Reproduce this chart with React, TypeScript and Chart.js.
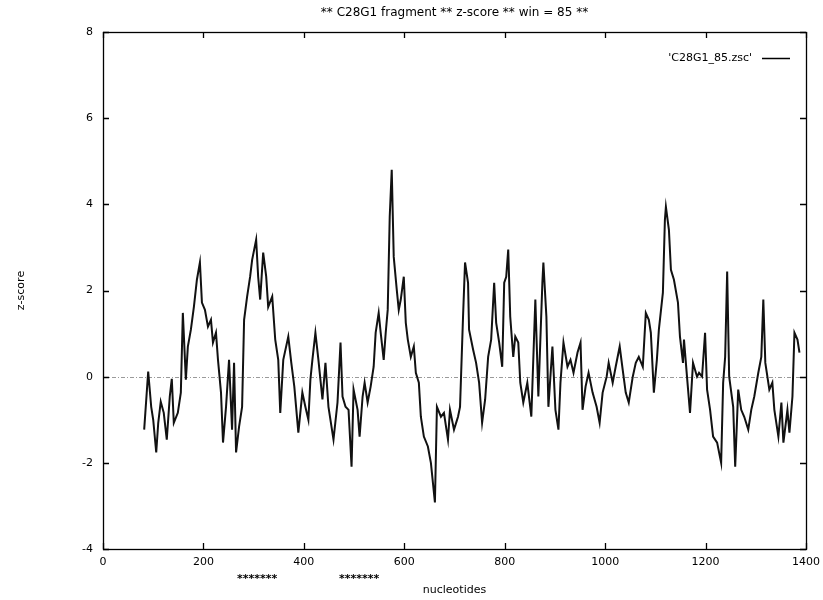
import { useEffect, useRef } from "react";
import { Chart, registerables } from "chart.js";

Chart.register(...registerables);

const titleText = "** C28G1 fragment ** z-score ** win = 85 **";
const seriesLabel = "'C28G1_85.zsc'";
const xAxisTitle = "nucleotides";
const yAxisTitle = "z-score";

const xTicks = [0, 200, 400, 600, 800, 1000, 1200, 1400];
const yTicks = [-4, -2, 0, 2, 4, 6, 8];

// marked regions shown under the x axis (nucleotide ranges)
const markStarts = [262, 466];
const markEnds = [352, 554];

const nucleotides = [
  82, 90, 96, 100, 106, 110, 115, 121, 127, 133, 137, 141, 149, 155, 159, 165, 169, 175, 181, 187,
  193, 197, 203, 209, 215, 219, 225, 229, 235, 239, 245, 251, 257, 261, 265, 271, 277, 281, 287, 293,
  297, 305, 309, 313, 319, 325, 329, 337, 343, 349, 353, 359, 369, 375, 381, 389, 397, 403, 409, 413,
  417, 423, 429, 437, 443, 449, 459, 467, 473, 477, 483, 489, 495, 499, 507, 511, 517, 521, 527, 533,
  539, 543, 549, 553, 559, 563, 567, 571, 575, 579, 585, 589, 593, 599, 603, 607, 613, 619, 623, 629,
  633, 639, 647, 653, 661, 665, 673, 679, 687, 691, 699, 707, 711, 717, 721, 727, 729, 737, 743, 749,
  755, 761, 767, 773, 779, 783, 789, 795, 799, 803, 807, 811, 817, 821, 827, 831, 837, 845, 853, 861,
  867, 875, 877, 883, 887, 895, 901, 907, 911, 917, 925, 931, 937, 945, 951, 955, 961, 967, 975, 983,
  989, 995, 1003, 1007, 1015, 1021, 1029, 1035, 1041, 1047, 1055, 1061, 1067, 1075, 1081, 1087, 1091, 1097, 1103, 1107,
  1115, 1119, 1121, 1127, 1131, 1137, 1145, 1149, 1155, 1157, 1163, 1169, 1175, 1183, 1187, 1193, 1199, 1203, 1209, 1215,
  1223, 1231, 1235, 1239, 1243, 1247, 1255, 1259, 1265, 1271, 1277, 1285, 1291, 1297, 1305, 1311, 1315, 1319, 1327, 1333,
  1337, 1345, 1351, 1355, 1363, 1367, 1373, 1377, 1383, 1387,
];

const zScores = [
  -1.23, 0.12, -0.7, -1.0, -1.76, -1.07, -0.58, -0.84, -1.46, -0.46, -0.05, -1.07, -0.84, -0.37, 1.48, -0.07, 0.7, 1.09, 1.62, 2.25,
  2.65, 1.72, 1.55, 1.16, 1.32, 0.79, 1.02, 0.39, -0.37, -1.53, -0.7, 0.39, -1.23, 0.32, -1.76, -1.16, -0.7, 1.32, 1.86, 2.32,
  2.71, 3.18, 2.32, 1.79, 2.88, 2.32, 1.62, 1.86, 0.86, 0.39, -0.84, 0.39, 0.93, 0.32, -0.23, -1.3, -0.37, -0.7, -1.0, -0.07,
  0.39, 1.02, 0.39, -0.53, 0.32, -0.7, -1.46, -0.6, 0.79, -0.46, -0.7, -0.77, -2.09, -0.3, -0.77, -1.39, -0.46, -0.14, -0.6, -0.23,
  0.23, 1.02, 1.48, 1.02, 0.39, 1.02, 1.55, 3.71, 4.8, 2.78, 2.02, 1.55, 1.79, 2.32, 1.25, 0.86, 0.46, 0.7, 0.09, -0.14,
  -0.93, -1.39, -1.62, -2.0, -2.92, -0.7, -0.93, -0.84, -1.46, -0.77, -1.23, -0.93, -0.7, 1.39, 2.65, 2.18, 1.09, 0.63, 0.32, -0.14,
  -1.07, -0.53, 0.46, 0.86, 2.18, 1.25, 0.79, 0.23, 2.18, 2.32, 2.95, 1.39, 0.46, 0.93, 0.79, -0.14, -0.6, -0.14, -0.93, 1.79,
  -0.46, 2.18, 2.65, 1.39, -0.7, 0.7, -0.77, -1.23, -0.14, 0.79, 0.23, 0.39, 0.09, 0.56, 0.79, -0.77, -0.23, 0.09, -0.37, -0.7,
  -1.07, -0.37, 0.0, 0.32, -0.14, 0.23, 0.7, 0.16, -0.37, -0.6, 0.0, 0.32, 0.46, 0.23, 1.48, 1.32, 1.02, -0.37, 0.39, 1.09,
  1.95, 3.64, 3.94, 3.41, 2.48, 2.25, 1.72, 0.93, 0.32, 0.86, 0.0, -0.84, 0.32, 0.0, 0.09, 0.0, 1.02, -0.3, -0.77, -1.39,
  -1.53, -2.0, -0.14, 0.46, 2.44, 0.0, -0.7, -2.09, -0.3, -0.77, -0.93, -1.23, -0.77, -0.46, 0.09, 0.46, 1.79, 0.32, -0.3, -0.14,
  -0.77, -1.39, -0.6, -1.53, -0.77, -1.3, -0.46, 1.02, 0.86, 0.56,
];

const FONT = "'DejaVu Sans', 'Liberation Sans', sans-serif";

const gnuplotPlugin = {
  id: "gnuplotFrame",
  beforeDatasetsDraw(chart: any) {
    const { ctx, chartArea: a, scales } = chart;
    const y0 = scales.y.getPixelForValue(0);
    ctx.save();
    ctx.strokeStyle = "#9a9a9a";
    ctx.lineWidth = 1;
    ctx.setLineDash([4, 2, 1, 2]);
    ctx.beginPath();
    ctx.moveTo(a.left, Math.round(y0) + 0.5);
    ctx.lineTo(a.right, Math.round(y0) + 0.5);
    ctx.stroke();
    ctx.restore();
  },
  afterDatasetsDraw(chart: any) {
    const { ctx, chartArea: a, scales } = chart;
    ctx.save();
    ctx.strokeStyle = "#000";
    ctx.lineWidth = 1.3;
    ctx.setLineDash([]);
    ctx.strokeRect(a.left + 0.5, a.top + 0.5, a.right - a.left, a.bottom - a.top);
    const tl = 6;
    ctx.beginPath();
    xTicks.forEach((v) => {
      const px = Math.round(scales.x.getPixelForValue(v)) + 0.5;
      ctx.moveTo(px, a.bottom);
      ctx.lineTo(px, a.bottom - tl);
      ctx.moveTo(px, a.top);
      ctx.lineTo(px, a.top + tl);
    });
    yTicks.forEach((v) => {
      const py = Math.round(scales.y.getPixelForValue(v)) + 0.5;
      ctx.moveTo(a.left, py);
      ctx.lineTo(a.left + tl, py);
      ctx.moveTo(a.right, py);
      ctx.lineTo(a.right - tl, py);
    });
    ctx.stroke();

    // title
    ctx.fillStyle = "#000";
    ctx.font = `12px ${FONT}`;
    ctx.textAlign = "center";
    ctx.textBaseline = "middle";
    ctx.fillText(titleText, (a.left + a.right) / 2, 13);

    // legend (text then line sample)
    ctx.font = `11px ${FONT}`;
    ctx.textAlign = "right";
    ctx.fillText(seriesLabel, a.right - 54, a.top + 26);
    ctx.lineWidth = 1.5;
    ctx.beginPath();
    ctx.moveTo(a.right - 44, a.top + 26.5);
    ctx.lineTo(a.right - 16, a.top + 26.5);
    ctx.stroke();

    // marks under the x axis
    ctx.textAlign = "center";
    ctx.font = `bold 11px ${FONT}`;
    for (let i = 0; i < markStarts.length; i++) {
      const x1 = scales.x.getPixelForValue(markStarts[i]);
      const x2 = scales.x.getPixelForValue(markEnds[i]);
      ctx.fillText("*******", (x1 + x2) / 2, a.bottom + 30);
    }
    ctx.restore();
  },
};

export default function App() {
  const ref = useRef<HTMLCanvasElement | null>(null);
  useEffect(() => {
    const canvas = ref.current;
    if (!canvas) return;
    const chart = new Chart(canvas, {
      type: "line",
      data: {
        datasets: [
          {
            label: seriesLabel,
            data: nucleotides.map((n, i) => ({ x: n, y: zScores[i] })),
            borderColor: "#111",
            borderWidth: 2,
            pointRadius: 0,
            tension: 0,
            fill: false,
          },
        ],
      },
      options: {
        animation: false,
        responsive: false,
        devicePixelRatio: 1,
        layout: { padding: { top: 32, right: 17, left: 0, bottom: 0 } },
        plugins: {
          legend: { display: false },
          title: { display: false },
          tooltip: { enabled: false },
        },
        scales: {
          x: {
            type: "linear",
            min: 0,
            max: 1400,
            grid: { display: false, drawTicks: false },
            border: { display: false },
            ticks: {
              stepSize: 200,
              color: "#000",
              padding: 7,
              maxRotation: 0,
              font: { family: FONT, size: 11 },
              callback: (v: any) => String(v),
            },
            title: {
              display: true,
              text: xAxisTitle,
              color: "#000",
              font: { family: FONT, size: 11 },
              padding: { top: 0, bottom: 3 },
            },
            afterFit: (s: any) => {
              s.height = 51;
              s.paddingLeft = 0;
              s.paddingRight = 0;
            },
          },
          y: {
            type: "linear",
            min: -4,
            max: 8,
            grid: { display: false, drawTicks: false },
            border: { display: false },
            ticks: {
              stepSize: 2,
              color: "#000",
              padding: 10,
              font: { family: FONT, size: 11 },
              callback: (v: any) => String(v),
            },
            title: {
              display: true,
              text: yAxisTitle,
              color: "#000",
              font: { family: FONT, size: 11 },
              padding: { top: 15, bottom: 0 },
            },
            afterFit: (s: any) => {
              s.width = 103;
              s.paddingTop = 0;
              s.paddingBottom = 0;
            },
          },
        },
      },
      plugins: [gnuplotPlugin],
    });
    return () => chart.destroy();
  }, []);
  return (
    <div style={{ position: "fixed", left: 0, top: 0, width: 823, height: 600, background: "#fff" }}>
      <canvas ref={ref} width={823} height={600} />
    </div>
  );
}
